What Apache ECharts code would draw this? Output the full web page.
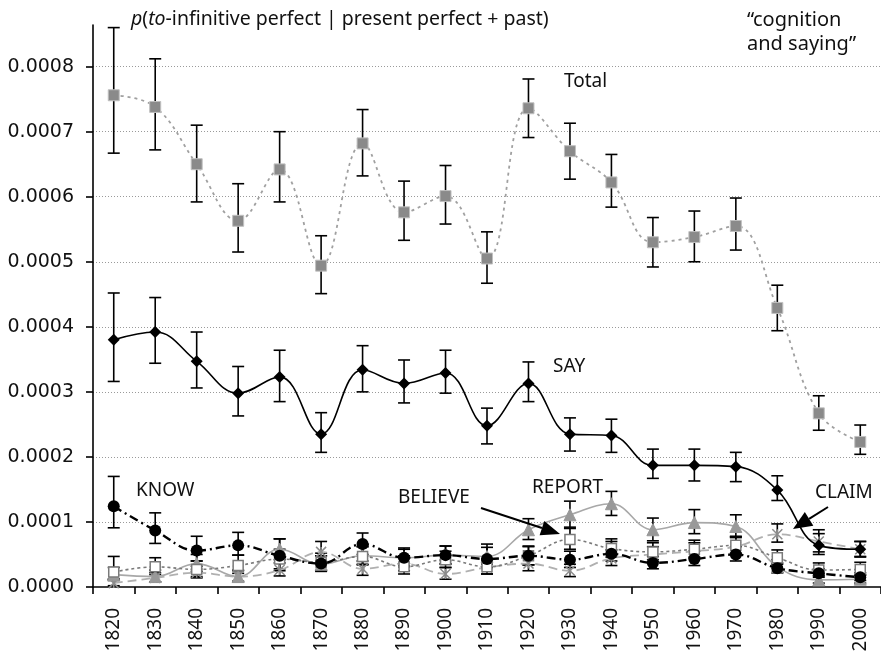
<!DOCTYPE html>
<html><head><meta charset="utf-8">
<script src="https://cdn.jsdelivr.net/npm/echarts@6/dist/echarts.min.js"></script>
<style>html,body{margin:0;padding:0;background:#fff}#c{width:881px;height:657px}</style>
</head><body><div id="c"></div>
<script>
const years = ['1820','1830','1840','1850','1860','1870','1880','1890','1900','1910','1920','1930','1940','1950','1960','1970','1980','1990','2000'];
const yTicks = [0,0.0001,0.0002,0.0003,0.0004,0.0005,0.0006,0.0007,0.0008];

const total     = [0.000756,0.000738,0.000650,0.000563,0.000642,0.000494,0.000682,0.000576,0.000601,0.000505,0.000736,0.000670,0.000622,0.000530,0.000538,0.000555,0.000429,0.000267,0.000223];
const totalLow  = [0.000667,0.000672,0.000592,0.000515,0.000592,0.000451,0.000632,0.000533,0.000558,0.000467,0.000691,0.000627,0.000584,0.000492,0.000500,0.000518,0.000394,0.000241,0.000204];
const totalHigh = [0.000860,0.000812,0.000710,0.000620,0.000700,0.000540,0.000734,0.000624,0.000648,0.000546,0.000781,0.000713,0.000665,0.000568,0.000578,0.000598,0.000464,0.000294,0.000249];

const say     = [0.000380,0.000392,0.000347,0.000298,0.000323,0.000235,0.000334,0.000313,0.000329,0.000248,0.000313,0.000235,0.000233,0.000187,0.000187,0.000185,0.000149,0.000064,0.000058];
const sayLow  = [0.000316,0.000344,0.000306,0.000263,0.000285,0.000207,0.000300,0.000283,0.000298,0.000220,0.000285,0.000209,0.000207,0.000167,0.000163,0.000162,0.000133,0.000050,0.000047];
const sayHigh = [0.000452,0.000445,0.000392,0.000339,0.000364,0.000268,0.000371,0.000349,0.000364,0.000275,0.000346,0.000260,0.000258,0.000212,0.000212,0.000207,0.000171,0.000088,0.000070];

const know     = [0.000124,0.000087,0.000056,0.000064,0.000048,0.000036,0.000066,0.000045,0.000049,0.000043,0.000048,0.000042,0.000051,0.000037,0.000043,0.000050,0.000029,0.000021,0.000015];
const knowLow  = [0.000091,0.000067,0.000040,0.000049,0.000025,0.000025,0.000050,0.000031,0.000035,0.000030,0.000034,0.000030,0.000040,0.000028,0.000033,0.000040,0.000022,0.000015,0.000010];
const knowHigh = [0.000170,0.000114,0.000078,0.000084,0.000074,0.000048,0.000083,0.000060,0.000063,0.000066,0.000062,0.000055,0.000070,0.000047,0.000055,0.000062,0.000037,0.000028,0.000022];

const believe     = [0.000023,0.000031,0.000027,0.000033,0.000043,0.000038,0.000047,0.000031,0.000042,0.000031,0.000048,0.000073,0.000059,0.000054,0.000058,0.000064,0.000045,0.000026,0.000027];
const believeLow  = [0.000012,0.000019,0.000016,0.000021,0.000028,0.000026,0.000034,0.000020,0.000030,0.000020,0.000034,0.000058,0.000046,0.000042,0.000046,0.000052,0.000035,0.000017,0.000018];
const believeHigh = [0.000047,0.000045,0.000040,0.000049,0.000058,0.000052,0.000062,0.000044,0.000055,0.000043,0.000063,0.000090,0.000074,0.000068,0.000072,0.000078,0.000057,0.000037,0.000038];

const report     = [0.000019,0.000016,0.000036,0.000016,0.000058,0.000035,0.000048,0.000045,0.000049,0.000047,0.000088,0.000111,0.000128,0.000088,0.000099,0.000093,0.000031,0.000011,0.000012];
const reportLow  = [0.000010,0.000008,0.000024,0.000008,0.000042,0.000024,0.000035,0.000033,0.000036,0.000035,0.000073,0.000092,0.000110,0.000071,0.000082,0.000077,0.000022,0.000006,0.000006];
const reportHigh = [0.000030,0.000026,0.000050,0.000026,0.000074,0.000048,0.000062,0.000058,0.000063,0.000061,0.000105,0.000132,0.000147,0.000106,0.000119,0.000111,0.000042,0.000018,0.000019];

const claim     = [0.000006,0.000014,0.000022,0.000016,0.000026,0.000054,0.000028,0.000036,0.000020,0.000030,0.000036,0.000025,0.000044,0.000050,0.000055,0.000062,0.000081,0.000070,0.000058];
const claimLow  = [0.000002,0.000008,0.000014,0.000009,0.000017,0.000040,0.000018,0.000025,0.000012,0.000020,0.000025,0.000016,0.000033,0.000039,0.000044,0.000050,0.000069,0.000054,0.000046];
const claimHigh = [0.000012,0.000022,0.000032,0.000025,0.000037,0.000070,0.000040,0.000048,0.000030,0.000041,0.000048,0.000035,0.000057,0.000062,0.000068,0.000076,0.000097,0.000082,0.000070];

const SANS = '"Noto Sans", sans-serif';
const chart = echarts.init(document.getElementById('c'), null, {renderer: 'canvas'});

function errSeries(low, high, z) {
  return {
    type: 'custom', z: z, silent: true,
    data: years.map((y, i) => [i, low[i], high[i]]),
    encode: {x: 0, y: [1, 2]},
    renderItem: function (params, api) {
      const lo = api.coord([api.value(0), api.value(1)]);
      const hi = api.coord([api.value(0), api.value(2)]);
      const w = 6;
      const st = {stroke: '#000', lineWidth: 1.6};
      return {type: 'group', children: [
        {type: 'line', shape: {x1: lo[0], y1: lo[1], x2: hi[0], y2: hi[1]}, style: st},
        {type: 'line', shape: {x1: lo[0] - w, y1: lo[1], x2: lo[0] + w, y2: lo[1]}, style: st},
        {type: 'line', shape: {x1: hi[0] - w, y1: hi[1], x2: hi[0] + w, y2: hi[1]}, style: st}
      ]};
    }
  };
}

const starPath = 'path://M0,0L10,10M10,0L0,10M5,0L5,10';

function arrow(x1, y1, x2, y2, headLen, headW) {
  const dx = x2 - x1, dy = y2 - y1, L = Math.sqrt(dx * dx + dy * dy);
  const ux = dx / L, uy = dy / L;
  const bx = x2 - ux * headLen, by = y2 - uy * headLen;
  const px = -uy * headW / 2, py = ux * headW / 2;
  return [
    {type: 'line', shape: {x1: x1, y1: y1, x2: bx, y2: by}, style: {stroke: '#000', lineWidth: 2}, z: 100},
    {type: 'polygon', shape: {points: [[x2, y2], [bx + px, by + py], [bx - px, by - py]]}, style: {fill: '#000'}, z: 100}
  ];
}

function label(text, x, y) {
  return {type: 'text', x: x, y: y, z: 100, style: {text: text, font: '19px ' + SANS, fill: '#111', textAlign: 'left', textVerticalAlign: 'middle'}};
}

const option = {
  animation: false,
  backgroundColor: '#fff',
  grid: {left: 93, top: 25, width: 790, height: 562, containLabel: false},
  xAxis: {
    type: 'category', data: years, boundaryGap: true,
    axisLine: {lineStyle: {color: '#000', width: 1.6}},
    axisTick: {show: true, length: 7, lineStyle: {color: '#000', width: 1.6}, alignWithLabel: false},
    axisLabel: {rotate: 90, margin: 21, fontFamily: SANS, fontSize: 19, color: '#111', interval: 0},
    splitLine: {show: false}
  },
  yAxis: {
    type: 'value', min: 0, max: 0.000864, interval: 0.0001,
    axisLine: {show: true, lineStyle: {color: '#000', width: 1.6}},
    axisTick: {show: true, length: 7, lineStyle: {color: '#000', width: 1.6}},
    axisLabel: {margin: 19, fontFamily: '"DejaVu Sans", sans-serif', fontSize: 19, color: '#111',
      showMaxLabel: false,
      formatter: function (v) { return yTicks.some(t => Math.abs(t - v) < 1e-9) ? v.toFixed(4) : ''; }},
    splitLine: {show: true, showMinLine: false, showMaxLine: false, lineStyle: {color: '#9a9a9a', width: 1, type: [1, 2]}}
  },
  graphic: [
    {type: 'text', x: 131, y: 19, z: 100, style: {
      text: '{i|p}(' + '{i|to}' + '-infinitive perfect | present perfect + past)',
      font: '19.5px ' + SANS, fill: '#111', textVerticalAlign: 'middle',
      rich: {i: {fontStyle: 'italic', fontFamily: SANS, fontSize: 19.5}}
    }},
    {type: 'text', x: 747, y: 20, z: 100, style: {text: '\u201Ccognition', font: '20px ' + SANS, fill: '#111', textVerticalAlign: 'middle'}},
    {type: 'text', x: 747, y: 44, z: 100, style: {text: 'and saying\u201D', font: '20px ' + SANS, fill: '#111', textVerticalAlign: 'middle'}},
    label('Total', 564, 82),
    label('SAY', 553, 367),
    label('KNOW', 136, 491),
    label('BELIEVE', 398, 498),
    label('REPORT', 532, 488),
    label('CLAIM', 815, 493),
    ...arrow(481, 508, 560, 534, 19, 15),
    ...arrow(828, 507, 793, 529, 19, 16)
  ],
  series: [
    errSeries(claimLow, claimHigh, 2),
    errSeries(reportLow, reportHigh, 2),
    errSeries(believeLow, believeHigh, 2),
    errSeries(knowLow, knowHigh, 2),
    errSeries(sayLow, sayHigh, 2),
    errSeries(totalLow, totalHigh, 2),
    {name: 'CLAIM', type: 'line', data: claim, smooth: 0.4, z: 3,
      symbol: starPath, symbolSize: 10,
      itemStyle: {color: 'rgba(0,0,0,0)', borderColor: '#8c8c8c', borderWidth: 1.5},
      lineStyle: {color: '#b0b0b0', width: 1.8, type: [9, 5]}},
    {name: 'REPORT', type: 'line', data: report, smooth: 0.4, z: 4,
      symbol: 'triangle', symbolSize: 12,
      itemStyle: {color: '#999999', borderColor: '#999999'},
      lineStyle: {color: '#a8a8a8', width: 1.6, type: 'solid'}},
    {name: 'BELIEVE', type: 'line', data: believe, smooth: 0.4, z: 5,
      symbol: 'rect', symbolSize: 10,
      itemStyle: {color: '#ffffff', borderColor: '#7a7a7a', borderWidth: 1.5},
      lineStyle: {color: '#7a7a7a', width: 1.6, type: [3, 3]}},
    {name: 'KNOW', type: 'line', data: know, smooth: 0.4, z: 6,
      symbol: 'circle', symbolSize: 12,
      itemStyle: {color: '#000000'},
      lineStyle: {color: '#000000', width: 2.4, type: [9, 4, 2, 4]}},
    {name: 'SAY', type: 'line', data: say, smooth: 0.4, z: 7,
      symbol: 'diamond', symbolSize: 12,
      itemStyle: {color: '#000000'},
      lineStyle: {color: '#000000', width: 1.6, type: 'solid'}},
    {name: 'Total', type: 'line', data: total, smooth: 0.4, z: 8,
      symbol: 'rect', symbolSize: 11,
      itemStyle: {color: '#8a8a8a', borderColor: '#c0c0c0', borderWidth: 1},
      lineStyle: {color: '#a0a0a0', width: 1.8, type: [3, 4]}}
  ]
};
chart.setOption(option);
</script>
</body></html>
